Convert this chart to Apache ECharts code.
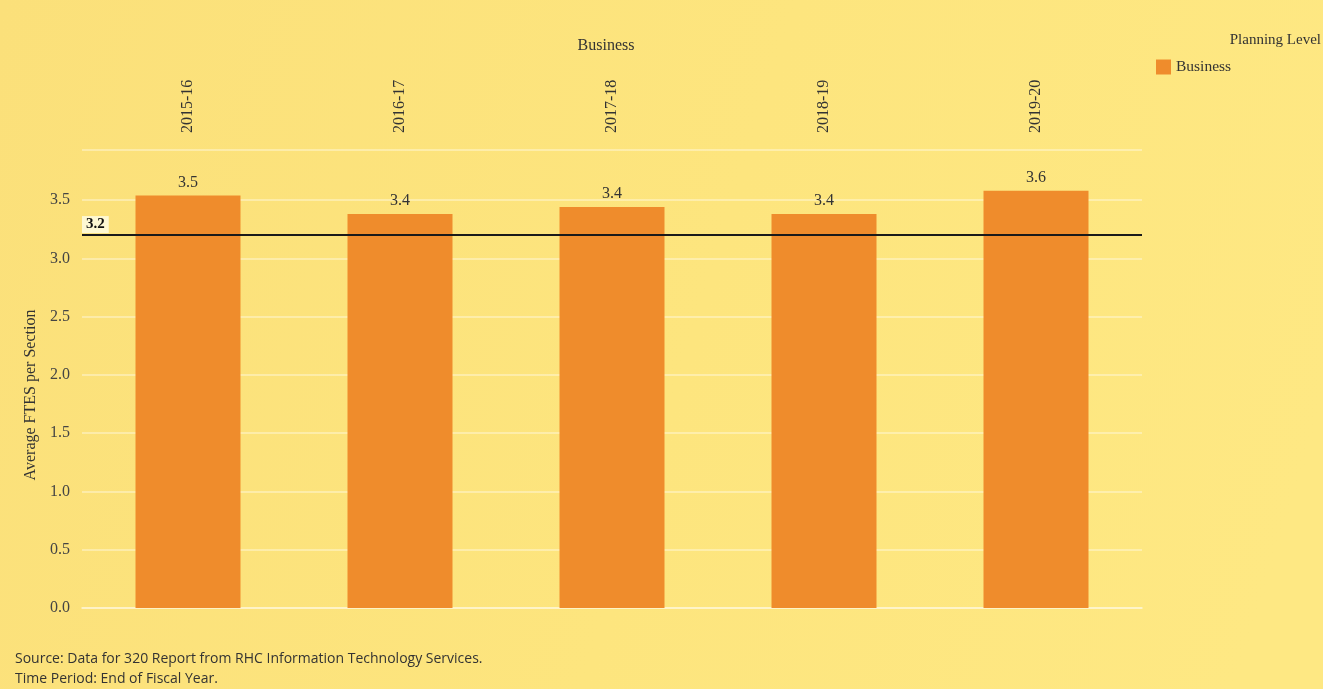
<!DOCTYPE html>
<html>
<head>
<meta charset="utf-8">
<script src="https://cdn.jsdelivr.net/npm/echarts@6/dist/echarts.min.js"></script>
<style>
  html, body { margin: 0; padding: 0; }
  #chart { width: 1323px; height: 689px; }
</style>
</head>
<body>
<div id="chart"></div>
<script>
// 数据
const years = ['2015-16', '2016-17', '2017-18', '2018-19', '2019-20'];
const fteValues = [3.54, 3.38, 3.44, 3.38, 3.58];
const planningLevel = 3.2;
const yTicks = [0, 0.5, 1.0, 1.5, 2.0, 2.5, 3.0, 3.5];

const serif = '"Liberation Serif", "DejaVu Serif", serif';
const sans = '"Open Sans", "Noto Sans", sans-serif';
const gridColor = 'rgba(255,255,255,0.35)';

const chart = echarts.init(document.getElementById('chart'));

const option = {
    backgroundColor: {
        type: 'linear', x: 0, y: 0, x2: 1, y2: 0.6,
        colorStops: [
            { offset: 0, color: '#fbe07a' },
            { offset: 0.55, color: '#fde57e' },
            { offset: 1, color: '#fee883' }
        ]
    },
    title: [
        {
            text: 'Business',
            left: 601, top: 33,
            textAlign: 'center',
            textStyle: { fontFamily: serif, fontSize: 16, fontWeight: 'normal', color: '#333' }
        },
        {
            text: 'Planning Level',
            right: 0, top: 28,
            padding: [5, 2, 5, 5],
            textStyle: { fontFamily: serif, fontSize: 15, fontWeight: 'normal', color: '#333' }
        },
        {
            text: 'Source: Data for 320 Report from RHC Information Technology Services.',
            left: 10, top: 647,
            textStyle: { fontFamily: sans, fontSize: 14, fontWeight: 'normal', color: '#333' }
        },
        {
            text: 'Time Period: End of Fiscal Year.',
            left: 10, top: 667,
            textStyle: { fontFamily: sans, fontSize: 14, fontWeight: 'normal', color: '#333' }
        }
    ],
    graphic: [
        {
            type: 'text',
            x: 31, y: 395,
            rotation: Math.PI / 2,
            style: {
                text: 'Average FTES per Section',
                font: '16px ' + serif,
                fill: '#333',
                align: 'center',
                verticalAlign: 'middle'
            }
        }
    ],
    legend: {
        data: ['Business'],
        left: 1151, top: 54,
        itemWidth: 15, itemHeight: 15, itemGap: 6,
        icon: 'rect',
        textStyle: { fontFamily: serif, fontSize: 15.5, color: '#333' }
    },
    grid: { left: 82, right: 181, top: 150, bottom: 81 },
    xAxis: {
        type: 'category',
        position: 'top',
        data: years,
        axisLine: { show: true, lineStyle: { color: gridColor, width: 2 } },
        axisTick: { show: false },
        axisLabel: {
            rotate: 90, margin: 17,
            fontFamily: serif, fontSize: 16, color: '#333'
        }
    },
    yAxis: {
        type: 'value',
        min: 0, max: 3.93, interval: 0.5,
        axisLine: { show: false },
        axisTick: { show: false },
        axisLabel: {
            margin: 12,
            fontFamily: serif, fontSize: 16, color: '#444',
            formatter: v => yTicks.includes(v) ? v.toFixed(1) : ''
        },
        splitLine: { lineStyle: { color: gridColor, width: 2 } }
    },
    series: [
        {
            name: 'Business',
            type: 'bar',
            data: fteValues,
            barWidth: 105,
            itemStyle: { color: '#ef8c2c' },
            label: {
                show: true, position: 'top', distance: 5,
                fontFamily: serif, fontSize: 16, color: '#333',
                formatter: p => p.value.toFixed(1)
            },
            markLine: {
                silent: true,
                symbol: 'none',
                data: [{ yAxis: planningLevel }],
                lineStyle: { color: '#1a1a1a', width: 2, type: 'solid' },
                label: {
                    position: 'insideStartTop',
                    distance: [0, 2],
                    formatter: planningLevel.toFixed(1),
                    fontFamily: serif, fontSize: 15, fontWeight: 'bold', color: '#111',
                    backgroundColor: 'rgba(255,255,240,0.75)',
                    padding: [1, 4]
                }
            }
        }
    ]
};

chart.setOption(option);
</script>
</body>
</html>
